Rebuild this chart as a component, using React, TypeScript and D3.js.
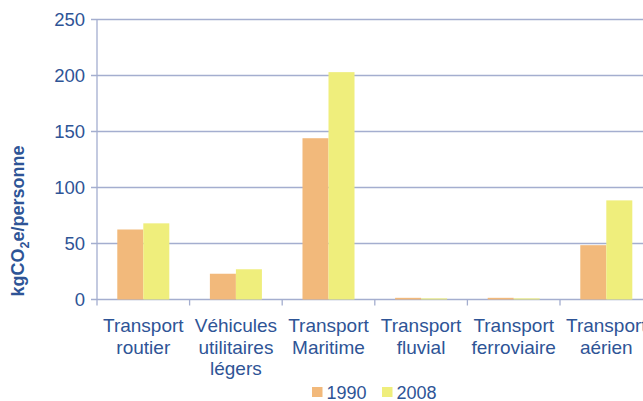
import React from 'react'
import * as d3 from 'd3'

const categories = [
  ['Transport', 'routier'],
  ['Véhicules', 'utilitaires', 'légers'],
  ['Transport', 'Maritime'],
  ['Transport', 'fluvial'],
  ['Transport', 'ferroviaire'],
  ['Transport', 'aérien'],
]
const series = ['1990', '2008']
const values1990 = [62.5, 23, 144, 1.5, 1.5, 48.5]
const values2008 = [68, 27, 203, 1, 1, 88.5]
const yTicks = [0, 50, 100, 150, 200, 250]

const colors = ['#F2B97B', '#EFEE7C']
const textColor = '#2E5496'
const axisColor = '#A4AECF'

export default function App() {
  const width = 643
  const height = 401
  const margin = { top: 19.5, left: 97, bottom: 101.5 }
  const bandW = 92.6

  const x = d3.scaleBand<number>()
    .domain(d3.range(categories.length))
    .range([margin.left, margin.left + bandW * categories.length])
  const x1 = d3.scaleBand<string>()
    .domain(series)
    .range([0, x.bandwidth()])
    .paddingOuter(0.78)
  const y = d3.scaleLinear()
    .domain([0, 250])
    .range([height - margin.bottom, margin.top])

  const data = [values1990, values2008]
  const font = '"Liberation Sans", Arial, sans-serif'

  return (
    <svg width={width} height={height} style={{ position: 'absolute', left: 0, top: 0 }} fontFamily={font}>
      {yTicks.map(t => (
        <g key={t}>
          <line x1={margin.left - 6} x2={width} y1={y(t)} y2={y(t)} stroke={axisColor} strokeWidth={1.3} />
          <text x={margin.left - 12} y={y(t)} dy="0.36em" textAnchor="end" fontSize={18.5} fill={textColor}>{t}</text>
        </g>
      ))}
      <line x1={margin.left} x2={margin.left} y1={y(250)} y2={y(0) + 6} stroke={axisColor} strokeWidth={1.3} />
      {categories.map((c, i) => (
        <g key={i}>
          {i > 0 && <line x1={x(i)} x2={x(i)} y1={y(0)} y2={y(0) + 6} stroke={axisColor} strokeWidth={1.3} />}
          {series.map((s, j) => (
            <rect key={s} x={(x(i) as number) + (x1(s) as number)} width={x1.bandwidth()}
              y={y(data[j][i])} height={y(0) - y(data[j][i])} fill={colors[j]} />
          ))}
          <text textAnchor="middle" fontSize={19} fill={textColor}>
            {c.map((l, k) => (
              <tspan key={k} x={(x(i) as number) + x.bandwidth() / 2} y={332 + k * 21.5}>{l}</tspan>
            ))}
          </text>
        </g>
      ))}
      <text transform={`translate(24,221) rotate(-90)`} textAnchor="middle" fontSize={18} fontWeight="bold" fill={textColor}>
        kgCO<tspan fontSize={12.5} dy={5}>2</tspan><tspan dy={-5}>e/personne</tspan>
      </text>
      {series.map((s, j) => (
        <g key={s} transform={`translate(${312 + j * 70},0)`}>
          <rect x={0} y={387} width={10.5} height={10} fill={colors[j]} />
          <text x={14.5} y={399} fontSize={18} fill={textColor}>{s}</text>
        </g>
      ))}
    </svg>
  )
}
